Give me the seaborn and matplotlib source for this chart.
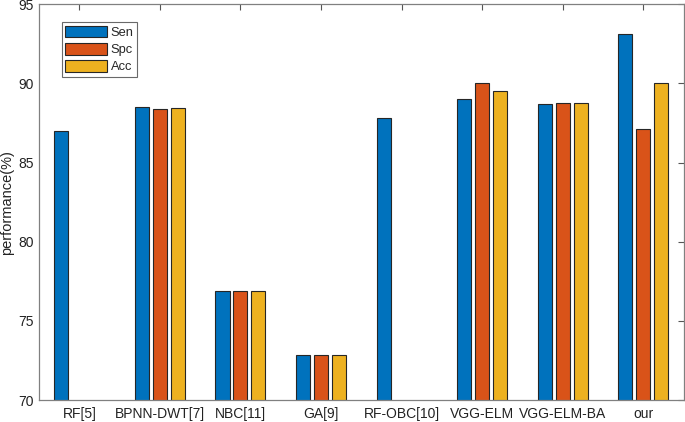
import numpy as np
import pandas as pd
import matplotlib
matplotlib.use('Agg')
import matplotlib.pyplot as plt
import seaborn as sns

methods = ['RF[5]', 'BPNN-DWT[7]', 'NBC[11]', 'GA[9]', 'RF-OBC[10]',
           'VGG-ELM', 'VGG-ELM-BA', 'our']
sen = [87.0, 88.5, 76.9, 72.85, 87.8, 89.0, 88.7, 93.1]
spc = [np.nan, 88.4, 76.9, 72.85, np.nan, 90.0, 88.77, 87.1]
acc = [np.nan, 88.42, 76.9, 72.85, np.nan, 89.5, 88.73, 90.05]
metrics = ['Sen', 'Spc', 'Acc']
colors = ['#0072BD', '#D95319', '#EDB120']

df = pd.DataFrame({'method': methods, 'Sen': sen, 'Spc': spc, 'Acc': acc})
df = df.melt(id_vars='method', var_name='metric', value_name='value')

sns.set_style('white')
plt.rcParams['font.family'] = ['Liberation Sans', 'DejaVu Sans']

fig, ax = plt.subplots(figsize=(6.85, 4.22), dpi=100)
sns.barplot(data=df, x='method', y='value', hue='metric', order=methods,
            hue_order=metrics, palette=colors, width=0.67, gap=0.22,
            edgecolor='#262626', linewidth=0.8, saturation=1, errorbar=None, ax=ax)

ax.set_ylim(70, 95)
ax.set_xlim(-0.5, len(methods) - 0.5)
ax.set_yticks([70, 75, 80, 85, 90, 95])
ax.set_xlabel('')
ax.set_ylabel('performance(%)', fontsize=10.5, color='#222222', labelpad=3)
ax.tick_params(axis='both', direction='in', top=True, right=True, length=4,
               width=0.8, color='#555555', labelsize=10, labelcolor='#222222')
ax.tick_params(axis='x', pad=5)
for s in ax.spines.values():
    s.set_visible(True)
    s.set_color('#808080')
    s.set_linewidth(0.9)

leg = ax.legend(loc='upper left', bbox_to_anchor=(0.035, 0.955), frameon=True,
                fancybox=False, edgecolor='#444444', fontsize=9.3,
                handlelength=3.2, handleheight=1.0, labelspacing=0.3,
                handletextpad=0.3, borderpad=0.3, borderaxespad=0)
leg.get_frame().set_linewidth(0.8)

plt.subplots_adjust(left=0.057, right=0.998, top=0.99, bottom=0.052)
plt.savefig('out.png', dpi=100)
